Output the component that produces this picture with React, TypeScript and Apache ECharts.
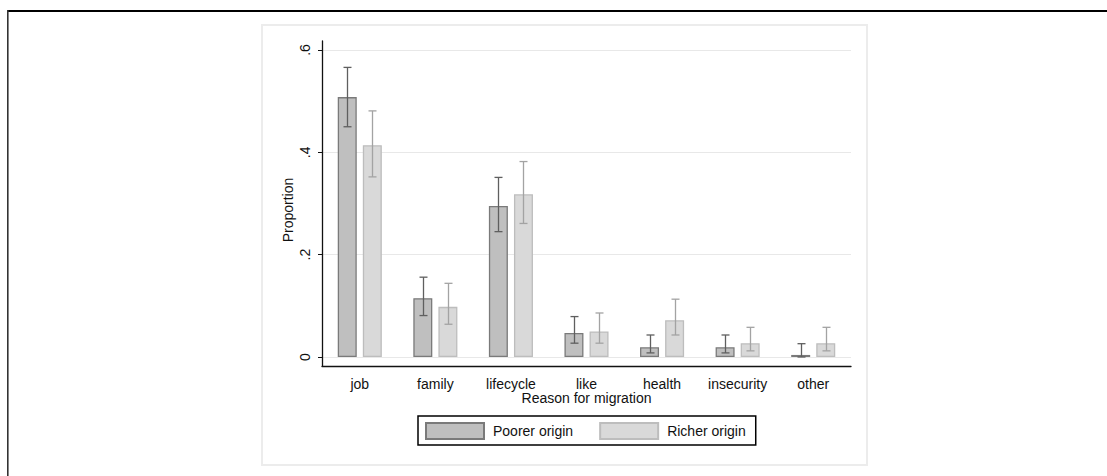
import React, { useEffect, useRef } from "react";
import * as echarts from "echarts";

const categories = ["job", "family", "lifecycle", "like", "health", "insecurity", "other"];
const seriesNames = ["Poorer origin", "Richer origin"];
const poorer = [0.508, 0.115, 0.295, 0.047, 0.019, 0.019, 0.004];
const poorerLo = [0.45, 0.081, 0.245, 0.027, 0.008, 0.008, 0.0];
const poorerHi = [0.566, 0.156, 0.351, 0.079, 0.043, 0.043, 0.026];
const richer = [0.414, 0.098, 0.318, 0.05, 0.072, 0.027, 0.027];
const richerLo = [0.352, 0.064, 0.261, 0.027, 0.043, 0.012, 0.012];
const richerHi = [0.481, 0.144, 0.382, 0.086, 0.113, 0.058, 0.058];
const yTickValues = [0, 0.2, 0.4, 0.6];
const yTickLabels = ["0", ".2", ".4", ".6"];
const xTitle = "Reason for migration";
const yTitle = "Proportion";

const FONT = "Liberation Sans, Arial, sans-serif";

function errorSeries(name: string, lo: number[], hi: number[], offset: number, color: string) {
  return {
    type: "custom",
    name: name + " CI",
    z: 5,
    silent: true,
    data: categories.map((_, i) => [i, lo[i], hi[i]]),
    encode: { x: 0, y: [1, 2] },
    renderItem: (params: any, api: any) => {
      const i = api.value(0);
      const pLo = api.coord([i, api.value(1)]);
      const pHi = api.coord([i, api.value(2)]);
      const cx = Math.round(pLo[0] + offset) + 0.5;
      const cap = 4;
      const st = { stroke: color, lineWidth: 1.3 };
      return {
        type: "group",
        children: [
          { type: "line", shape: { x1: cx, y1: pLo[1], x2: cx, y2: pHi[1] }, style: st },
          { type: "line", shape: { x1: cx - cap, y1: pLo[1], x2: cx + cap, y2: pLo[1] }, style: st },
          { type: "line", shape: { x1: cx - cap, y1: pHi[1], x2: cx + cap, y2: pHi[1] }, style: st },
        ],
      };
    },
  };
}

export default function App() {
  const ref = useRef<HTMLDivElement>(null);
  useEffect(() => {
    if (!ref.current) return;
    const chart = echarts.init(ref.current, null, { renderer: "svg" });
    const option: any = {
      animation: false,
      backgroundColor: "#ffffff",
      textStyle: { fontFamily: FONT },
      graphic: [
        { type: "line", shape: { x1: 7, y1: 11, x2: 1107, y2: 11 }, style: { stroke: "#000", lineWidth: 2.2 }, z: 0 },
        { type: "line", shape: { x1: 7.8, y1: 10, x2: 7.8, y2: 476 }, style: { stroke: "#333", lineWidth: 1.6 }, z: 0 },
        {
          type: "rect",
          shape: { x: 262, y: 25, width: 605, height: 440 },
          style: { fill: "#ffffff", stroke: "#ececec", lineWidth: 2 },
          z: -1,
        },
        {
          type: "text",
          x: 288,
          y: 210,
          rotation: Math.PI / 2,
          style: {
            text: yTitle,
            font: `14px ${FONT}`,
            fill: "#111",
            align: "center",
            verticalAlign: "middle",
          },
        },
      ],
      legend: {
        data: seriesNames,
        left: 418,
        top: 416,
        orient: "horizontal",
        itemWidth: 58,
        itemHeight: 16,
        itemGap: 26,
        padding: [6, 10, 5, 7],
        borderColor: "#000",
        borderWidth: 1.5,
        borderRadius: 0,
        icon: "rect",
        textStyle: { fontSize: 14, color: "#111", fontFamily: FONT, padding: [0, 0, 0, 4] },
        selectedMode: false,
      },
      grid: { left: 322, right: 256, top: 41, bottom: 110, containLabel: false },
      xAxis: {
        type: "category",
        data: categories,
        boundaryGap: true,
        name: xTitle,
        nameLocation: "middle",
        nameGap: 25,
        nameMoveOverlap: false,
        nameTextStyle: { fontSize: 14, color: "#111", fontFamily: FONT },
        axisLine: { onZero: false, lineStyle: { color: "#111", width: 1.3 } },
        axisTick: { alignWithLabel: true, length: 5, interval: 0, lineStyle: { color: "#111" } },
        axisLabel: { fontSize: 14, color: "#111", margin: 11, interval: 0, fontFamily: FONT },
        splitLine: { show: false },
      },
      yAxis: {
        type: "value",
        min: -0.0176,
        max: 0.6176,
        axisLine: { show: true, lineStyle: { color: "#111", width: 1.3 } },
        axisTick: { show: true, length: 4, customValues: yTickValues, lineStyle: { color: "#111" } },
        axisLabel: {
          customValues: yTickValues,
          rotate: 90,
          fontSize: 14,
          color: "#111",
          margin: 10,
          fontFamily: FONT,
          formatter: (v: number) => {
            const idx = yTickValues.findIndex((t) => Math.abs(t - v) < 1e-9);
            return idx >= 0 ? yTickLabels[idx] : "";
          },
        },
        splitLine: { show: true, lineStyle: { color: "#e8e8e8", width: 1 } },
      },
      series: [
        {
          type: "bar",
          name: seriesNames[0],
          data: poorer,
          barWidth: 19,
          barGap: "32%",
          itemStyle: { color: "#bfbfbf", borderColor: "#7a7a7a", borderWidth: 1.3 },
        },
        {
          type: "bar",
          name: seriesNames[1],
          data: richer,
          barWidth: 19,
          barGap: "32%",
          itemStyle: { color: "#d9d9d9", borderColor: "#bdbdbd", borderWidth: 1.3 },
        },
        errorSeries(seriesNames[0], poorerLo, poorerHi, -12.5, "#5f5f5f"),
        errorSeries(seriesNames[1], richerLo, richerHi, 12.5, "#a3a3a3"),
      ],
    };
    chart.setOption(option);
    return () => chart.dispose();
  }, []);
  return (
    <div
      ref={ref}
      style={{ position: "fixed", left: 0, top: 0, width: 1107, height: 476, background: "#fff" }}
    />
  );
}
